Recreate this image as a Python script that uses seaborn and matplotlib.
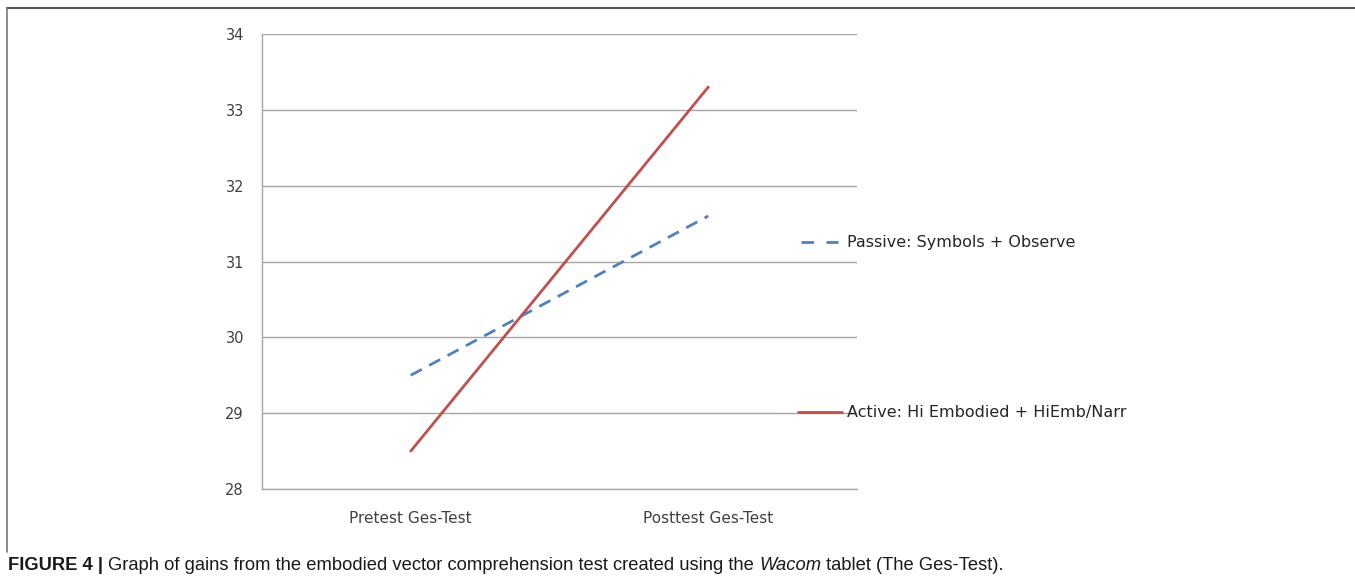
import numpy as np
import pandas as pd
import matplotlib.pyplot as plt
import seaborn as sns
from matplotlib.lines import Line2D

# data
tests = ['Pretest Ges-Test', 'Posttest Ges-Test']
passive = [29.5, 31.6]
active = [28.5, 33.3]
groups = ['Passive: Symbols + Observe', 'Active: Hi Embodied + HiEmb/Narr']
y_ticks = [28, 29, 30, 31, 32, 33, 34]

df = pd.DataFrame({
    'test': tests * 2,
    'score': passive + active,
    'group': [groups[0]] * 2 + [groups[1]] * 2,
})

sns.set_style('white')
plt.rcParams['font.family'] = ['DejaVu Sans']

W, H = 1355, 587
fig = plt.figure(figsize=(W / 100, H / 100), dpi=100)
ax = fig.add_axes([262 / W, 1 - 489 / H, (857 - 262) / W, (489 - 34) / H])

dash = (4.5, 3.0)
sns.lineplot(data=df, x='test', y='score', hue='group', style='group',
             palette={groups[0]: '#4F81BD', groups[1]: '#C0504D'},
             dashes={groups[0]: dash, groups[1]: ''},
             linewidth=2.0, ax=ax, legend=False, sort=False)

ax.set_xlim(-0.5, 1.5)
ax.set_ylim(28, 34)
ax.set_yticks(y_ticks)
ax.set_yticklabels([str(t) for t in y_ticks], fontsize=10.5, color='#404040')
ax.set_xticks([0, 1])
ax.set_xticklabels(tests, fontsize=11, color='#404040')
ax.set_xticks([-0.5, 0.5, 1.5], minor=True)
ax.tick_params(axis='x', which='major', length=0, pad=16)
ax.tick_params(axis='x', which='minor', length=5, color='#a0a0a0', direction='out')
ax.tick_params(axis='y', length=5, color='#a0a0a0', direction='out', pad=8)
ax.set_xlabel('')
ax.set_ylabel('')
ax.grid(axis='y', color='#a6a6a6', linewidth=1.0)
ax.set_axisbelow(True)
for side in ['top', 'right']:
    ax.spines[side].set_visible(False)
for side in ['left', 'bottom']:
    ax.spines[side].set_color('#a6a6a6')
    ax.spines[side].set_linewidth(1.0)

# legend entries, spaced like the Excel original
leg_items = [
    (groups[0], '#4F81BD', (0, (4.5, 4.5)), 242, 801, 838.5),
    (groups[1], '#C0504D', '-', 412, 798, 842),
]
for label, col, ls, ypix, x0, x1 in leg_items:
    yf = 1 - ypix / H
    fig.add_artist(Line2D([x0 / W, x1 / W], [yf, yf], color=col, lw=2.0,
                          linestyle=ls, dash_capstyle='butt',
                          transform=fig.transFigure))
    fig.text(847 / W, yf, label, fontsize=11.5, color='#262626', va='center',
             ha='left')

# frame lines at top and left
fig.add_artist(Line2D([7 / W, 1], [1 - 8 / H, 1 - 8 / H], color='#555555',
                      lw=1.5, transform=fig.transFigure))
fig.add_artist(Line2D([7.5 / W, 7.5 / W], [1 - 8 / H, 1 - 552 / H],
                      color='#777777', lw=1.2, transform=fig.transFigure))

# caption with mixed styles
parts = [
    ('FIGURE 4 | ', 'bold', 'normal'),
    ('Graph of gains from the embodied vector comprehension test created using the ', 'normal', 'normal'),
    ('Wacom', 'normal', 'italic'),
    (' tablet (The Ges-Test).', 'normal', 'normal'),
]
fig.canvas.draw()
renderer = fig.canvas.get_renderer()
x = 8
for txt, weight, style in parts:
    t = fig.text(x / W, 1 - 565 / H, txt, fontsize=13.2, fontweight=weight,
                 fontstyle=style, family='Liberation Sans', color='#1a1a1a',
                 va='center', ha='left')
    bb = t.get_window_extent(renderer=renderer)
    x += bb.width

fig.savefig('out.png', dpi=100)
